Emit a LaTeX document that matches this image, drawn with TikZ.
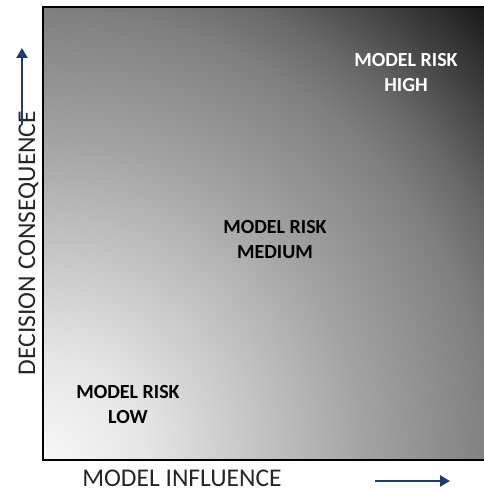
\documentclass[tikz,border=0pt]{standalone}
\usepackage{fontspec}
\setmainfont{Carlito}
\usetikzlibrary{arrows.meta}
\definecolor{navy}{HTML}{1F3A78}
\definecolor{riskA}{gray}{0.97}
\definecolor{riskB}{gray}{0.9}
\definecolor{riskC}{gray}{0.78}
\definecolor{riskD}{gray}{0.64}
\definecolor{riskE}{gray}{0.57}
\definecolor{riskF}{gray}{0.5}
\definecolor{riskG}{gray}{0.41}
\definecolor{riskH}{gray}{0.26}
\definecolor{riskI}{gray}{0.08}
\pgfdeclareradialshading{riskglow}{\pgfpoint{0bp}{0bp}}{color(0bp)=(riskA); color(4bp)=(riskB);
    color(8bp)=(riskC); color(12.5bp)=(riskD); color(15bp)=(riskE); color(17.5bp)=(riskF);
    color(19.5bp)=(riskG); color(22bp)=(riskH); color(25bp)=(riskI); color(50bp)=(riskI)}
\tikzset{
    risklabel/.style={font=\fontsize{20}{25}\selectfont\bfseries, align=center},
    axislabel/.style={font=\fontsize{25.5}{30}\selectfont, text=black!85, inner sep=0pt},
    axisarrow/.style={-{Triangle[length=10pt,width=11pt]}, line width=2.6pt, navy}
}
\begin{document}
\begin{tikzpicture}[x=1pt,y=1pt]
    \useasboundingbox (0,0) rectangle (483,491);
    \begin{scope}
        \clip (43,31) rectangle (486,484);
        \shade[shading=riskglow] (43,31) circle (640pt);
    \end{scope}
    \draw[line width=2pt] (486,484) -- (43,484) -- (43,31) -- (486,31);
    % labels inside the square
    \node[risklabel, text=white] (high) at (406,418) {MODEL RISK\\HIGH};
    \node[risklabel] (medium) at (275,251) {MODEL RISK\\MEDIUM};
    \node[risklabel] (low) at (128,86) {MODEL RISK\\LOW};
    % axes
    \node[axislabel, rotate=90, anchor=base] (yaxis) at (35,248) {DECISION CONSEQUENCE};
    \node[axislabel, anchor=base] (xaxis) at (182,5) {MODEL INFLUENCE};
    \coordinate (ystart) at (22,366);
    \coordinate (yend) at (22,443);
    \coordinate (xstart) at (375,10);
    \coordinate (xend) at (450,10);
    \draw[axisarrow] (ystart) -- (yend);
    \draw[axisarrow] (xstart) -- (xend);
\end{tikzpicture}
\end{document}
